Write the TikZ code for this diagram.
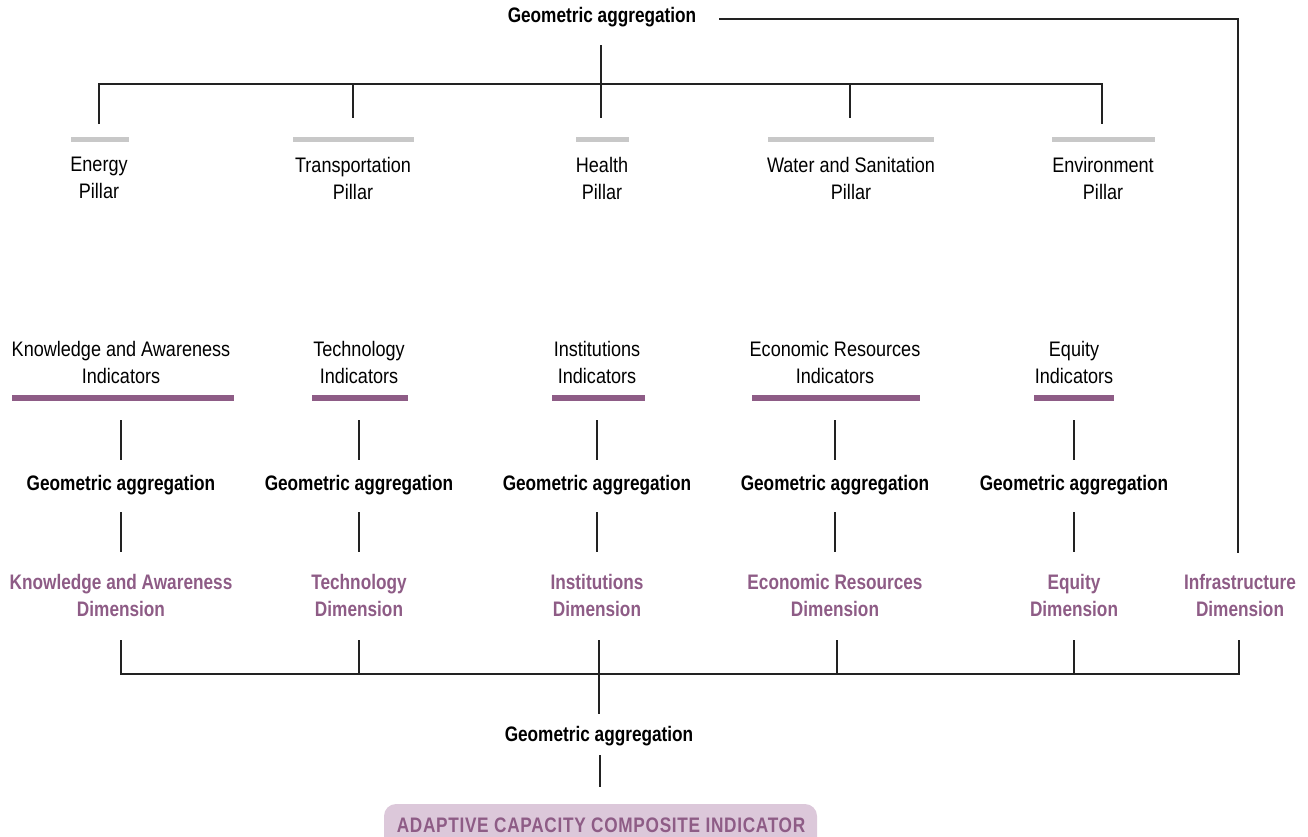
\documentclass[tikz,border=0pt]{standalone}
\usepackage{fontspec}
\setmainfont{Liberation Sans}[FakeStretch=0.86, BoldFeatures={FakeStretch=0.82}]
\definecolor{dimpurple}{HTML}{8E5C86}
\definecolor{boxfill}{HTML}{DCC8DA}
\definecolor{bargray}{HTML}{C8C8C8}
\definecolor{linecol}{HTML}{222222}
\tikzset{
  plain/.style={font=\fontsize{21}{27}\selectfont, align=center, inner sep=0pt, text=black},
  agg/.style={font=\bfseries\fontsize{21}{27}\selectfont, align=center, inner sep=0pt, text=black},
  dimtext/.style={font=\bfseries\fontsize{21}{27}\selectfont, align=center, inner sep=0pt, text=dimpurple},
  graybar/.style={fill=bargray, minimum height=5pt, inner sep=0pt, outer sep=0pt},
  purplebar/.style={fill=dimpurple, minimum height=6pt, inner sep=0pt, outer sep=0pt},
  conn/.style={draw=linecol, line width=1.2pt},
}
\begin{document}
\begin{tikzpicture}[x=1pt,y=-1pt]
\clip (0,0) rectangle (1308,836);
% top
\node[agg] (topagg) at (602,17) {Geometric aggregation};
% pillars
\node[graybar, minimum width=58pt] (b1) at (100,139.5) {};
\node[graybar, minimum width=121pt] (b2) at (353.5,139.5) {};
\node[graybar, minimum width=53pt] (b3) at (602.5,139.5) {};
\node[graybar, minimum width=166pt] (b4) at (851,139.5) {};
\node[graybar, minimum width=103pt] (b5) at (1103.5,139.5) {};
\node[plain] (p1) at (99,178) {Energy\\Pillar};
\node[plain] (p2) at (353,178) {Transportation\\Pillar};
\node[plain] (p3) at (602,178) {Health\\Pillar};
\node[plain] (p4) at (851,178) {Water and Sanitation\\Pillar};
\node[plain] (p5) at (1103,178) {Environment\\Pillar};
% indicators
\node[plain] (i1) at (121,362) {Knowledge and Awareness\\Indicators};
\node[plain] (i2) at (359,362) {Technology\\Indicators};
\node[plain] (i3) at (597,362) {Institutions\\Indicators};
\node[plain] (i4) at (835,362) {Economic Resources\\Indicators};
\node[plain] (i5) at (1074,362) {Equity\\Indicators};
\node[purplebar, minimum width=222pt] (u1) at (123,398) {};
\node[purplebar, minimum width=96pt] (u2) at (360,398) {};
\node[purplebar, minimum width=93pt] (u3) at (598.5,398) {};
\node[purplebar, minimum width=168pt] (u4) at (836,398) {};
\node[purplebar, minimum width=80pt] (u5) at (1074,398) {};
% aggregations
\node[agg] (a1) at (121,485) {Geometric aggregation};
\node[agg] (a2) at (359,485) {Geometric aggregation};
\node[agg] (a3) at (597,485) {Geometric aggregation};
\node[agg] (a4) at (835,485) {Geometric aggregation};
\node[agg] (a5) at (1074,485) {Geometric aggregation};
% dimensions
\node[dimtext] (d1) at (121,595) {Knowledge and Awareness\\Dimension};
\node[dimtext] (d2) at (359,595) {Technology\\Dimension};
\node[dimtext] (d3) at (597,595) {Institutions\\Dimension};
\node[dimtext] (d4) at (835,595) {Economic Resources\\Dimension};
\node[dimtext] (d5) at (1074,595) {Equity\\Dimension};
\node[dimtext] (d6) at (1240,595) {Infrastructure\\Dimension};
% bottom
\node[agg] (botagg) at (599,736) {Geometric aggregation};
\fill[boxfill, rounded corners=12pt] (384,804) rectangle (817,860);
\node[font=\bfseries\fontsize{21}{24}\selectfont\addfontfeature{LetterSpace=3.3}, text=dimpurple, inner sep=0pt, anchor=base] (aci) at (601,832) {ADAPTIVE CAPACITY COMPOSITE INDICATOR};
% top connectors
\coordinate (tr0) at (719,19);
\coordinate (tr1) at (1238,19);
\coordinate (tr2) at (1238,553);
\draw[conn] (tr0) -- (tr1) -- (tr2);
\coordinate (tv0) at (601,45);
\coordinate (tv1) at (601,118);
\draw[conn] (tv0) -- (tv1);
\coordinate (hl) at (99,84);
\coordinate (hr) at (1102,84);
\draw[conn] (99,124) -- (hl) -- (hr) -- (1102,124);
\draw[conn] (353,84) -- (353,118);
\draw[conn] (850,84) -- (850,118);
% per-dimension connectors
\foreach \x in {121,359,597,835,1074}{
  \draw[conn] (\x,420) -- (\x,460);
  \draw[conn] (\x,512) -- (\x,552);
}
% bottom bus
\coordinate (bl) at (121,674);
\coordinate (br) at (1239,674);
\draw[conn] (121,640) -- (bl) -- (br) -- (1239,640);
\foreach \x in {359,837,1074}{\draw[conn] (\x,640) -- (\x,674);}
\draw[conn] (599,640) -- (599,714);
\draw[conn] (600,755) -- (600,787);
\end{tikzpicture}
\end{document}
